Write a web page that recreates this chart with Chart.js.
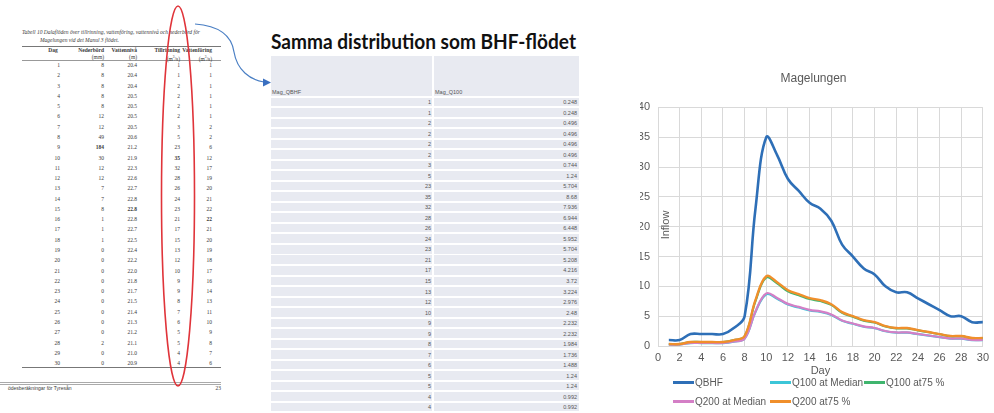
<!DOCTYPE html>
<html><head><meta charset="utf-8">
<script src="https://cdn.jsdelivr.net/npm/chart.js@4"></script>
<style>
html,body{margin:0;padding:0;background:#fff;}
body{width:994px;height:413px;position:relative;overflow:hidden;}
.a{position:absolute;white-space:nowrap;}
.doc{font-family:"Liberation Serif",serif;color:#3a3a3a;font-size:5.5px;line-height:6px;}
.r{text-align:right;}
.b{font-weight:bold;}
.sh{font-family:"Liberation Sans",Arial,sans-serif;color:#555;font-size:5.5px;line-height:6px;}
.cell{position:absolute;background:#e8eaf1;}
#c{position:absolute;left:640px;top:60px;}
.lg{position:absolute;font-family:"Liberation Sans",Arial,sans-serif;font-size:10px;color:#595959;white-space:nowrap;line-height:12px;}
.lg i{display:inline-block;width:21px;height:3px;vertical-align:middle;margin-right:1px;position:relative;top:-1px;}
</style></head>
<body>
<div id="doc"></div>
<div id="sheet"></div>
<svg class="a" style="left:0;top:0" width="994" height="413">
  <ellipse cx="178" cy="196" rx="16.5" ry="190" fill="none" stroke="#e0343a" stroke-width="1.6"/>
  <path d="M195,24 C222,26 232,38 234,52 C237,70 250,80 264,82" fill="none" stroke="#4a7fc4" stroke-width="1.2"/>
  <polygon points="271,82.5 263,78.5 263,86.5" fill="#3a6fc0"/>
</svg>
<canvas id="c" width="354" height="319"></canvas>
<div class="a" id="yl" style="left:658px;top:219px;width:14px;font-family:'Liberation Sans',Arial,sans-serif;font-size:11px;color:#595959;transform:rotate(-90deg);transform-origin:center;text-align:center;line-height:12px;"><span style="display:inline-block;margin-left:-20px;width:54px;text-align:center">Inflow</span></div>
<div class="lg" style="left:673px;top:377px"><i style="background:#2e6fb7"></i>QBHF</div>
<div class="lg" style="left:770px;top:377px"><i style="background:#3cc6d8"></i>Q100 at Median</div>
<div class="lg" style="left:864px;top:377px"><i style="background:#3fb56e"></i>Q100 at75 %</div>
<div class="lg" style="left:673px;top:396px"><i style="background:#d47fc6"></i>Q200 at Median</div>
<div class="lg" style="left:770px;top:396px"><i style="background:#f08f2b"></i>Q200 at75 %</div>
<script>
// ---- data ----
const days = [1,2,3,4,5,6,7,8,9,10,11,12,13,14,15,16,17,18,19,20,21,22,23,24,25,26,27,28,29,30];
const nederbord = [8,8,8,8,8,12,12,49,184,30,12,12,7,7,8,1,1,1,0,0,0,0,0,0,0,0,0,2,0,0];
const vattenniva = ["20.4","20.4","20.4","20.5","20.5","20.5","20.5","20.6","21.2","21.9","22.3","22.6","22.7","22.8","22.8","22.8","22.7","22.5","22.4","22.2","22.0","21.8","21.7","21.5","21.4","21.3","21.2","21.1","21.0","20.9"];
const tillrinning = [1,1,2,2,2,2,3,5,23,35,32,28,26,24,23,21,17,15,13,12,10,9,9,8,7,6,5,5,4,4];
const vattenforing = [1,1,1,1,1,1,2,2,6,12,17,19,20,21,22,22,21,20,19,18,17,16,14,13,11,10,9,8,7,6];
const magQ100 = ["0.248","0.248","0.496","0.496","0.496","0.496","0.744","1.24","5.704","8.68","7.936","6.944","6.448","5.952","5.704","5.208","4.216","3.72","3.224","2.976","2.48","2.232","2.232","1.984","1.736","1.488","1.24","1.24","0.992","0.992"];

const qbhf = [1,1,2,2,2,2,3,5,23,35,32,28,26,24,23,21,17,15,13,12,10,9,9,8,7,6,5,5,4,4];
const q100Median = [0.248,0.248,0.496,0.496,0.496,0.496,0.744,1.24,5.704,8.68,7.936,6.944,6.448,5.952,5.704,5.208,4.216,3.72,3.224,2.976,2.48,2.232,2.232,1.984,1.736,1.488,1.24,1.24,0.992,0.992];
const q100P75 = [0.33,0.33,0.66,0.66,0.66,0.66,0.98,1.64,7.54,11.48,10.5,9.18,8.53,7.87,7.54,6.89,5.58,4.92,4.26,3.94,3.28,2.95,2.95,2.62,2.3,1.97,1.64,1.64,1.31,1.31];
const q200Median = [0.25,0.25,0.5,0.5,0.5,0.5,0.76,1.26,5.8,8.82,8.06,7.06,6.55,6.05,5.8,5.29,4.28,3.78,3.28,3.02,2.52,2.27,2.27,2.02,1.76,1.51,1.26,1.26,1.01,1.01];
const q200P75 = [0.33,0.33,0.67,0.67,0.67,0.67,1.0,1.67,7.68,11.69,10.69,9.35,8.68,8.02,7.68,7.01,5.68,5.01,4.34,4.01,3.34,3.01,3.01,2.67,2.34,2.0,1.67,1.67,1.34,1.34];
const xTicks = {min:0, max:30, step:2};
const yTicks = {min:0, max:40, step:5};

// ---- scanned table ----
(function(){
  const d = document.getElementById('doc');
  let h = '';
  h += '<div class="a doc" style="left:22px;top:29px;font-style:italic">Tabell 10 Dalaflöden över tillrinning, vattenföring, vattennivå och nederbörd för</div>';
  h += '<div class="a doc" style="left:40px;top:37px;font-style:italic">Magelungen vid det Manul 3 flödet.</div>';
  h += '<div class="a" style="left:22px;top:46px;width:199px;height:0;border-top:0.8px solid #777"></div>';
  h += '<div class="a" style="left:22px;top:60px;width:199px;height:0;border-top:0.6px solid #999"></div>';
  h += '<div class="a" style="left:22px;top:367px;width:199px;height:0;border-top:0.8px solid #777"></div>';
  h += '<div class="a" style="left:0px;top:382px;width:221px;height:0;border-top:0.6px solid #aaa;border-bottom:0.6px solid #aaa;height:1px"></div>';
  h += '<div class="a doc" style="left:8px;top:385px;font-family:\'Liberation Sans\',sans-serif;font-size:5px">ödesberäkningar för Tyresån</div>';
  h += '<div class="a doc r" style="left:200px;width:21px;top:385px;font-size:5.5px">23</div>';
  const rights = [60,104,137,180,212];
  const heads = [['Dag',''],['Nederbörd','(mm)'],['Vattennivå','(m)'],['Tillrinning','(m<sup style="font-size:3.5px">3</sup>/s)'],['Vattenföring','(m<sup style="font-size:3.5px">3</sup>/s)']];
  heads.forEach((hd,i)=>{
    const left = (i===0?45:rights[i]-40);
    const w = (i===0?16:40);
    h += '<div class="a doc b '+(i===0?'':'r')+'" style="left:'+left+'px;width:'+w+'px;top:47px;'+(i===0?'text-align:center':'')+'">'+hd[0]+'</div>';
    if(hd[1]) h += '<div class="a doc r" style="left:'+left+'px;width:'+w+'px;top:54px">'+hd[1]+'</div>';
  });
  const cols = [days, nederbord, vattenniva, tillrinning, vattenforing];
  const bold = {1:8, 2:14, 3:9, 4:15};
  for(let r=0;r<days.length;r++){
    const y = 62 + r*10.28;
    cols.forEach((col,i)=>{
      const b = bold[i]===r ? ' b' : '';
      h += '<div class="a doc r'+b+'" style="left:'+(rights[i]-30)+'px;width:30px;top:'+y.toFixed(2)+'px">'+col[r]+'</div>';
    });
  }
  d.innerHTML = h;
})();

// ---- spreadsheet ----
(function(){
  const s = document.getElementById('sheet');
  let h = '';
  h += '<div class="a" id="st" style="left:271px;top:29px;font-family:Lato,\'Noto Sans\',sans-serif;font-weight:bold;font-size:21px;line-height:24px;color:#111;transform-origin:0 0">Samma distribution som BHF-flödet</div>';
  h += '<div class="cell" style="left:271px;top:56px;width:161px;height:40px"></div>';
  h += '<div class="cell" style="left:434px;top:56px;width:145px;height:40px"></div>';
  h += '<div class="a sh" style="left:272px;top:89px">Mag_QBHF</div>';
  h += '<div class="a sh" style="left:435px;top:89px">Mag_Q100</div>';
  for(let r=0;r<tillrinning.length;r++){
    const y = 97.5 + r*10.53;
    h += '<div class="cell" style="left:271px;top:'+y.toFixed(2)+'px;width:161px;height:8.6px"></div>';
    h += '<div class="cell" style="left:434px;top:'+y.toFixed(2)+'px;width:145px;height:8.6px"></div>';
    h += '<div class="a sh r" style="left:380px;width:51px;top:'+(y+1.5).toFixed(2)+'px">'+tillrinning[r]+'</div>';
    h += '<div class="a sh r" style="left:520px;width:57px;top:'+(y+1.5).toFixed(2)+'px">'+magQ100[r]+'</div>';
  }
  s.innerHTML = h;
  const st = document.getElementById('st');
  const w = st.getBoundingClientRect().width;
  st.style.transform = 'scaleX(' + (305 / w) + ')';
})();

// ---- chart ----
function pts(arr){ return days.map((d,i)=>({x:d, y:arr[i]})); }
const tickFont = {family:"'Liberation Sans', Arial, sans-serif", size:11};
new Chart(document.getElementById('c'), {
  type:'line',
  data:{datasets:[
    {label:'QBHF', data:pts(qbhf), borderColor:'#2e6fb7', borderWidth:2.6, order:5},
    {label:'Q100 at Median', data:pts(q100Median), borderColor:'#3cc6d8', borderWidth:2.2, order:4},
    {label:'Q100 at75 %', data:pts(q100P75), borderColor:'#3fb56e', borderWidth:2.2, order:3},
    {label:'Q200 at Median', data:pts(q200Median), borderColor:'#d47fc6', borderWidth:2.2, order:2},
    {label:'Q200 at75 %', data:pts(q200P75), borderColor:'#f08f2b', borderWidth:2.4, order:1}
  ]},
  options:{
    responsive:false, animation:false,
    layout:{padding:{left:0,right:7,top:0,bottom:0}},
    elements:{point:{radius:0}, line:{tension:0.4, fill:false}},
    plugins:{
      legend:{display:false}, tooltip:{enabled:false},
      title:{display:true, text:'Magelungen', color:'#595959', font:{family:"'Liberation Sans', Arial, sans-serif", size:12, weight:'normal'}, padding:{top:11,bottom:22}}
    },
    scales:{
      x:{type:'linear', min:xTicks.min, max:xTicks.max,
         ticks:{stepSize:xTicks.step, color:'#595959', font:tickFont, padding:5},
         grid:{color:'#d9d9d9', drawTicks:false}, border:{color:'#d9d9d9'},
         title:{display:true, text:'Day', color:'#595959', font:tickFont, padding:{top:0,bottom:1}},
         afterFit(s){ s.height = 33; }},
      y:{min:yTicks.min, max:yTicks.max,
         ticks:{stepSize:yTicks.step, color:'#595959', font:tickFont, padding:8},
         grid:{color:'#d9d9d9', drawTicks:false}, border:{color:'#d9d9d9'},
         afterFit(s){ s.width = 18; }}
    }
  }
});
</script>
</body></html>
